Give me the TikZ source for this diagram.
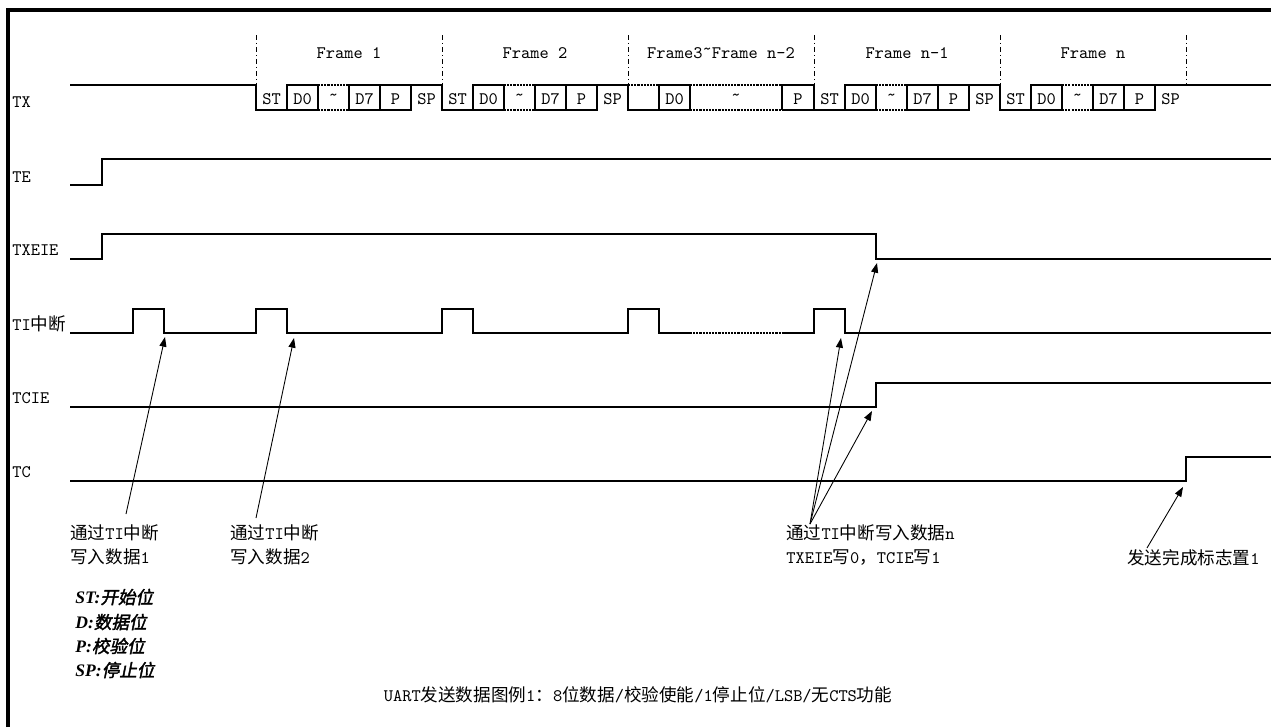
\documentclass[tikz,border=0pt]{standalone}
\usepackage{fontspec}
\newfontfamily\cjk{Noto Sans CJK SC}
\newfontfamily\cjkbi[FakeSlant=0.2,FakeBold=2]{Noto Sans CJK SC}
\newfontfamily\lgdfont{Liberation Serif}
\newcommand\zh[1]{{\cjk #1}}
\newcommand\zhbi[1]{{\lgdfont\bfseries\itshape #1}}
\usetikzlibrary{arrows.meta}

\begin{document}
\begin{tikzpicture}[x=0.02cm, y=-0.02cm, font=\ttfamily\normalsize,
  sig/.style={line width=0.6pt},
  gap/.style={line width=0.6pt, dash pattern=on 1.2pt off 0.6pt},
  fsep/.style={line width=0.5pt, dash pattern=on 3pt off 1.5pt on 0.8pt off 1.5pt},
  pin/.style={-{Triangle[length=5.5pt,width=4pt]}, line width=0.5pt},
  sname/.style={anchor=west, inner sep=0pt},
  note/.style={anchor=west, inner sep=0pt, align=left}]
  \useasboundingbox (0,0) rectangle (1271,727);
  \draw[line width=1.8pt] (8,727) -- (8,10) -- (1271,10);

  \node[sname] (tx) at (12,102) {TX};
  \node[sname] (te) at (12,177) {TE};
  \node[sname] (txeie) at (12,250) {TXEIE};
  \node[sname] (ti) at (12,324) {TI\zh{中断}};
  \node[sname] (tcie) at (12,398) {TCIE};
  \node[sname] (tc) at (12,472) {TC};

  \foreach \s in {256,442,628,814,1000,1186}
    \draw[fsep] (\s,35) -- (\s,85);
  \node (f1) at (349,53) {Frame 1};
  \node (f2) at (535,53) {Frame 2};
  \node (fm) at (721,53) {Frame3\raisebox{0.5ex}{\textasciitilde}Frame n-2};
  \node (fn1) at (907,53) {Frame n-1};
  \node (fn) at (1093,53) {Frame n};

  \draw[sig] (70,85) -- (256,85);
  \foreach \s in {256,442,814,1000}{
    \draw[sig] (\s,85) -- (\s,110) -- (\s+62,110);
    \draw[sig] (\s+31,110) -- (\s+31,85) -- (\s+62,85) -- (\s+62,110);
    \draw[gap] (\s+62,85) -- (\s+93,85) (\s+62,110) -- (\s+93,110);
    \draw[sig] (\s+93,110) -- (\s+93,85) -- (\s+186,85);
    \draw[sig] (\s+93,110) -- (\s+155,110) -- (\s+155,85);
    \draw[sig] (\s+124,85) -- (\s+124,110);
    \node (st\s) at (\s+15.5,99) {ST};
    \node (da\s) at (\s+46.5,99) {D0};
    \node (dt\s) at (\s+77.5,97) {\textasciitilde};
    \node (db\s) at (\s+108.5,99) {D7};
    \node (p\s) at (\s+139.5,99) {P};
    \node (sp\s) at (\s+170.5,99) {SP};
  }
  \draw[sig] (628,85) -- (628,110) -- (690,110);
  \draw[gap] (628,85) -- (659,85);
  \draw[sig] (659,110) -- (659,85) -- (690,85) -- (690,110);
  \draw[gap] (690,85) -- (782,85) (690,110) -- (782,110);
  \draw[sig] (782,110) -- (782,85) -- (814,85) (782,110) -- (814,110);
  \node (dam) at (674.5,99) {D0};
  \node (dtm) at (736,97) {\textasciitilde};
  \node (pm) at (798,99) {P};
  \draw[sig] (1186,85) -- (1271,85);

  \draw[sig] (70,185) -- (102,185) -- (102,159) -- (1271,159);
  \draw[sig] (70,259) -- (102,259) -- (102,234) -- (876,234) -- (876,259) -- (1271,259);
  \draw[sig] (70,333) -- (133,333) -- (133,309) -- (164,309) -- (164,333)
    -- (256,333) -- (256,309) -- (287,309) -- (287,333)
    -- (442,333) -- (442,309) -- (473,309) -- (473,333)
    -- (628,333) -- (628,309) -- (659,309) -- (659,333) -- (690,333);
  \draw[gap] (690,333) -- (782,333);
  \draw[sig] (782,333) -- (814,333) -- (814,309) -- (845,309) -- (845,333) -- (1271,333);
  \draw[sig] (70,407) -- (876,407) -- (876,383) -- (1271,383);
  \draw[sig] (70,481) -- (1186,481) -- (1186,457) -- (1271,457);

  \coordinate (ti1) at (165,337);
  \coordinate (ti2) at (294,338);
  \coordinate (tin) at (841,338);
  \coordinate (txeoff) at (877,263);
  \coordinate (tcieon) at (872,411);
  \coordinate (tcset) at (1183,487);
  \coordinate (w1t) at (126,514);
  \coordinate (w2t) at (256,518);
  \coordinate (wnt) at (810,524);
  \coordinate (wct) at (1147,548);

  \node[note] (w1) at (70,545) {\zh{通过}TI\zh{中断}\\[2pt]\zh{写入数据}1};
  \node[note] (w2) at (230,545) {\zh{通过}TI\zh{中断}\\[2pt]\zh{写入数据}2};
  \node[note] (wn) at (786,545) {\zh{通过}TI\zh{中断写入数据}n\\[2pt]TXEIE\zh{写}0\zh{，}TCIE\zh{写}1};
  \node[note] (wc) at (1127,558) {\zh{发送完成标志置}1};

  \draw[pin] (w1t) -- (ti1);
  \draw[pin] (w2t) -- (ti2);
  \draw[pin] (wnt) -- (tin);
  \draw[pin] (wnt) -- (txeoff);
  \draw[pin] (wnt) -- (tcieon);
  \draw[pin] (wct) -- (tcset);

  \node[sname] (lst) at (75,597) {\zhbi{ST:}{\cjkbi 开始位}};
  \node[sname] (ld) at (75,622) {\zhbi{D:}{\cjkbi 数据位}};
  \node[sname] (lp) at (75,646) {\zhbi{P:}{\cjkbi 校验位}};
  \node[sname] (lsp) at (75,670) {\zhbi{SP:}{\cjkbi 停止位}};

  \node (cap) at (638,695) {UART\zh{发送数据图例}1\zh{：}8\zh{位数据}/\zh{校验使能}/1\zh{停止位}/LSB/\zh{无}CTS\zh{功能}};
\end{tikzpicture}
\end{document}
